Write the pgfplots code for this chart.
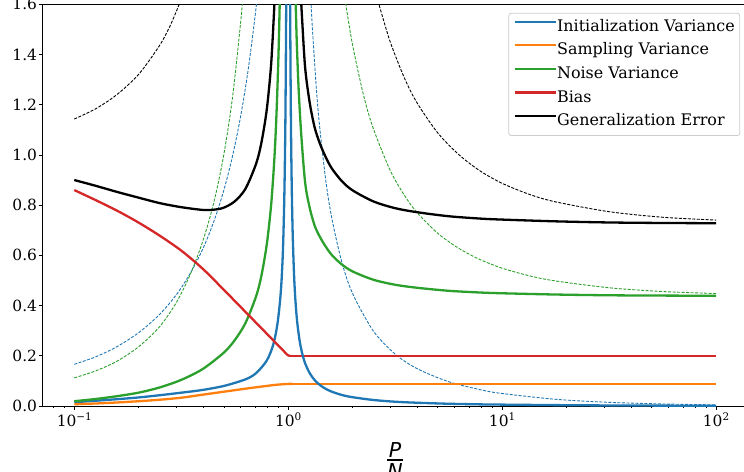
\documentclass[border=0pt]{standalone}
\usepackage{fontspec}
\setmainfont{DejaVu Serif}
\newfontfamily\labelsans{DejaVu Sans}
\usepackage{pgfplots}
\pgfplotsset{compat=1.18}
\definecolor{tabblue}{HTML}{1F77B4}
\definecolor{taborange}{HTML}{FF7F0E}
\definecolor{tabgreen}{HTML}{2CA02C}
\definecolor{tabred}{HTML}{D62728}
\newcommand{\tenp}[1]{10\raisebox{6bp}{\fontsize{10.5}{12}\selectfont #1}}
\begin{document}
\begin{tikzpicture}
\path[use as bounding box] (-42.2bp,-66bp) rectangle (701.8bp,406bp);
\begin{axis}[
  at={(0,0)}, anchor=south west,
  scale only axis, width=705.9bp, height=401.7bp,
  xmode=log, log basis x=10,
  xmin=0.070795, xmax=141.254, ymin=0, ymax=1.6,
  xtick={0.1,1,10,100},
  xticklabels={\tenp{−1},\tenp{0},\tenp{1},\tenp{2}},
  minor xtick={0.08,0.09,0.2,0.3,0.4,0.5,0.6,0.7,0.8,0.9,2,3,4,5,6,7,8,9,20,30,40,50,60,70,80,90},
  ytick={0,0.2,0.4,0.6,0.8,1.0,1.2,1.4,1.6},
  yticklabels={0.0,0.2,0.4,0.6,0.8,1.0,1.2,1.4,1.6},
  xtick pos=left, ytick pos=left, tick align=outside,
  major tick length=3.5bp, minor tick length=2bp,
  every tick/.style={black, line width=0.8bp},
  every minor tick/.style={black, line width=0.6bp},
  axis line style={line width=0.8bp, black},
  tick label style={font=\fontsize{15.5}{18}\selectfont, inner sep=0pt},
  xticklabel style={yshift=-3bp},
  yticklabel style={xshift=-1.5bp},
  xlabel={\labelsans\itshape\fontsize{20.6}{24}\selectfont\vbox{\offinterlineskip\hbox to 16bp{\hss P\hss}\kern2.2bp\hrule height 1.7bp\kern2.5bp\hbox to 16bp{\hss N\hss}}},
  xlabel style={at={(axis description cs:0.5,0)}, anchor=north, yshift=-36bp, inner sep=0pt},
  legend cell align=left,
  legend image code/.code={\draw[#1, line width=2.3bp] (0bp,5.5bp) -- (34bp,5.5bp); \path (0bp,5.5bp) -- (41bp,5.5bp);},
  legend style={at={(1,1)}, anchor=north east, xshift=-8bp, yshift=-8.5bp,
    draw=black!20, line width=0.8bp, rounded corners=2.5bp, fill=white,
    fill opacity=0.8, text opacity=1, inner xsep=5bp, inner ysep=5.8bp,
    row sep=7.2bp, font=\fontsize{16}{19}\selectfont,
    nodes={inner sep=0bp, text height=12.4bp, text depth=4bp}},
  dsh/.style={line width=0.9bp, dash pattern=on 3bp off 1.5bp, forget plot, smooth, tension=0.5},
  sol/.style={line width=2.3bp, smooth, tension=0.5},
  flat/.style={line width=2.3bp, forget plot},
]
% dashed curves
\addplot[tabblue, dsh] coordinates {(0.1,0.166)(0.126,0.196)(0.158,0.236)(0.2,0.292)(0.25,0.364)(0.3,0.443)(0.35,0.531)(0.4,0.628)(0.45,0.737)(0.5,0.859)(0.55,0.998)(0.6,1.156)(0.65,1.339)(0.7,1.552)(0.72,1.648)};
\addplot[tabblue, dsh] coordinates {(1.26,1.723)(1.28,1.6)(1.3,1.493)(1.35,1.28)(1.4,1.12)(1.5,0.896)(1.6,0.747)(1.78,0.574)(2,0.448)(2.5,0.299)(3.16,0.207)(4,0.149)(5.6,0.0974)(7.9,0.0649)(10,0.0498)(17.8,0.0267)(31.6,0.0146)(56,0.00815)(100,0.00453)};
\addplot[tabgreen, dsh] coordinates {(0.1,0.112)(0.126,0.14)(0.158,0.178)(0.2,0.236)(0.25,0.315)(0.3,0.412)(0.35,0.528)(0.4,0.66)(0.45,0.814)(0.5,1.001)(0.55,1.234)(0.6,1.532)(0.62,1.675)};
\addplot[tabgreen, dsh] coordinates {(1.82,1.658)(1.87,1.587)(2,1.438)(2.25,1.238)(2.5,1.105)(3,0.938)(3.5,0.838)(4,0.771)(5,0.688)(6.3,0.627)(7.9,0.583)(10,0.549)(13.5,0.518)(17.8,0.498)(31.6,0.471)(56,0.456)(100,0.448)};
\addplot[black, dsh] coordinates {(0.1,1.143)(0.126,1.184)(0.158,1.24)(0.2,1.321)(0.25,1.435)(0.28,1.513)(0.31,1.602)(0.33,1.667)};
\addplot[black, dsh] coordinates {(2.6,1.631)(2.66,1.598)(3,1.45)(3.5,1.305)(4,1.208)(5,1.088)(6.3,1.0)(7.9,0.936)(10,0.887)(13.5,0.842)(17.8,0.813)(31.6,0.774)(56,0.752)(100,0.7405)};
% solid curves
\addplot[tabblue, sol] coordinates {(0.1,0.015)(0.126,0.021)(0.158,0.027)(0.1995,0.034)(0.251,0.043)(0.316,0.053)(0.398,0.064)(0.501,0.08)(0.631,0.106)(0.708,0.131)(0.794,0.181)(0.851,0.244)(0.891,0.328)(0.923,0.452)(0.944,0.61)(0.9594,0.84)(0.9705,1.15)(0.9795,1.65)(0.984,2.09)};
\addlegendentry{Initialization Variance}
\addplot[taborange, sol] coordinates {(0.1,0.007)(0.126,0.01)(0.158,0.014)(0.1995,0.019)(0.251,0.025)(0.316,0.033)(0.398,0.045)(0.501,0.057)(0.631,0.069)(0.794,0.08)(0.891,0.085)(1.0,0.088)(1.047,0.088)};
\addlegendentry{Sampling Variance}
\addplot[tabgreen, sol] coordinates {(0.1,0.019)(0.126,0.028)(0.158,0.039)(0.1995,0.053)(0.251,0.074)(0.316,0.104)(0.398,0.147)(0.5,0.2125)(0.562,0.262)(0.631,0.33)(0.708,0.437)(0.75,0.52)(0.794,0.643)(0.832,0.8)(0.861,0.98)(0.881,1.157)(0.9,1.39)(0.912,1.59)(0.922,1.81)};
\addlegendentry{Noise Variance}
\addplot[tabred, sol] coordinates {(0.1,0.86)(0.1259,0.82)(0.1585,0.778)(0.1995,0.731)(0.2512,0.678)(0.3162,0.619)(0.3981,0.547)(0.5012,0.462)(0.631,0.375)(0.7943,0.288)(0.8913,0.244)(0.955,0.218)(0.982,0.207)(1.0,0.2015)(1.023,0.2)};
\addlegendentry{Bias}
\addplot[black, sol] coordinates {(0.1,0.90)(0.126,0.877)(0.158,0.853)(0.1995,0.83)(0.251,0.808)(0.316,0.792)(0.398,0.781)(0.45,0.782)(0.5,0.79)(0.562,0.815)(0.631,0.865)(0.708,0.965)(0.75,1.05)(0.794,1.18)(0.832,1.36)(0.861,1.59)(0.87,1.68)};
\addlegendentry{Generalization Error}
\addplot[taborange, flat] coordinates {(1.047,0.088)(100,0.088)};
\addplot[tabred, flat] coordinates {(1.023,0.2)(100,0.2)};
\addplot[tabblue, sol, forget plot] coordinates {(1.019,1.79)(1.022,1.55)(1.026,1.31)(1.032,1.06)(1.04,0.85)(1.05,0.68)(1.065,0.523)(1.08,0.425)(1.1,0.34)(1.13,0.262)(1.16,0.213)(1.2,0.17)(1.26,0.131)(1.33,0.103)(1.41,0.083)(1.5,0.068)(1.6,0.057)(1.78,0.044)(2,0.035)(2.5,0.024)(3.16,0.017)(4,0.013)(5.6,0.009)(7.9,0.0065)(10,0.0055)(17.8,0.0035)(31.6,0.0022)(56,0.0015)(100,0.001)};
\addplot[tabgreen, sol, forget plot] coordinates {(1.082,1.633)(1.09,1.527)(1.1,1.418)(1.12,1.255)(1.15,1.085)(1.2,0.89)(1.26,0.79)(1.33,0.718)(1.41,0.672)(1.5,0.634)(1.6,0.601)(1.78,0.564)(2,0.536)(2.5,0.503)(3.16,0.483)(4,0.471)(5.6,0.459)(7.9,0.452)(10,0.449)(17.8,0.444)(31.6,0.441)(56,0.4398)(100,0.439)};
\addplot[black, sol, forget plot] coordinates {(1.14,1.67)(1.16,1.55)(1.2,1.348)(1.26,1.209)(1.33,1.109)(1.41,1.043)(1.5,0.99)(1.6,0.946)(1.78,0.896)(2,0.859)(2.5,0.815)(3.16,0.788)(4,0.772)(5.6,0.756)(7.9,0.7465)(10,0.7425)(17.8,0.7355)(31.6,0.731)(56,0.729)(100,0.728)};
\end{axis}
\end{tikzpicture}
\end{document}
